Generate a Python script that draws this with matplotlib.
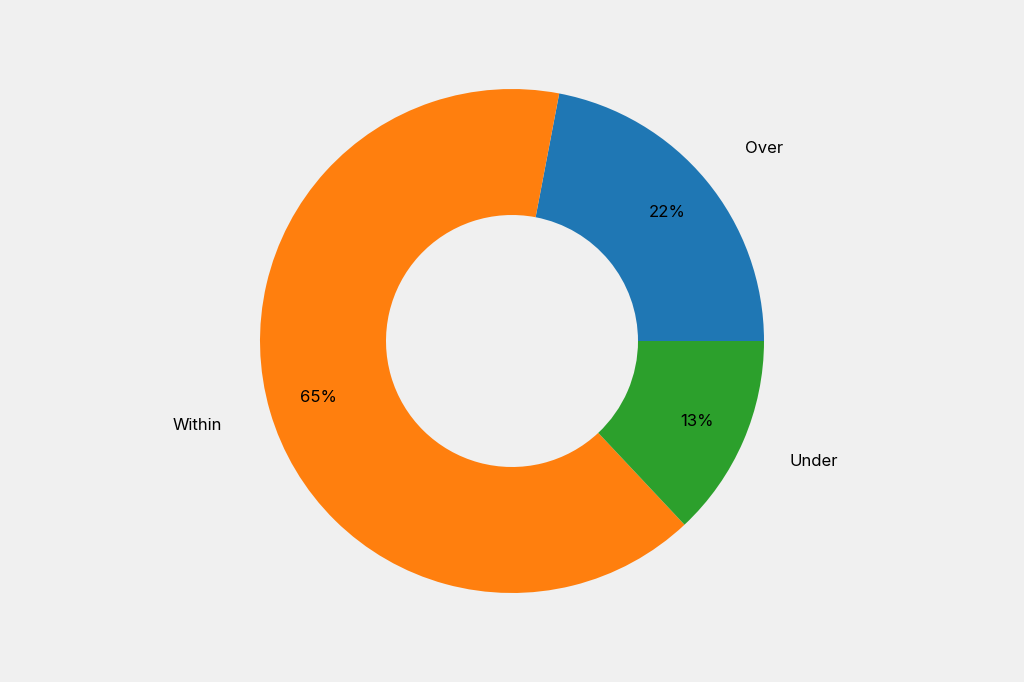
import matplotlib
matplotlib.use("Agg")
import matplotlib.pyplot as plt

labels = ["Over", "Within", "Under"]
values = [22, 65, 13]
colors = ["#1f77b4", "#ff7f0e", "#2ca02c"]

fig = plt.figure(figsize=(10.24, 6.82), dpi=100, facecolor="#f0f0f0")
ax = fig.add_axes([0, 0, 1, 1])
ax.set_facecolor("#f0f0f0")
wedges, texts, autotexts = ax.pie(values, labels=labels, colors=colors, startangle=0,
       autopct="%1.0f%%", pctdistance=0.8, labeldistance=1.2,
       wedgeprops=dict(width=0.5), textprops=dict(fontsize=12, family="Inter"))
ax.set_aspect("equal")
r = 252
ax.set_xlim(-512 / r, 512 / r)
ax.set_ylim(-341 / r, 341 / r)
ax.axis("off")
fig.savefig("out.png", dpi=100, facecolor="#f0f0f0")
